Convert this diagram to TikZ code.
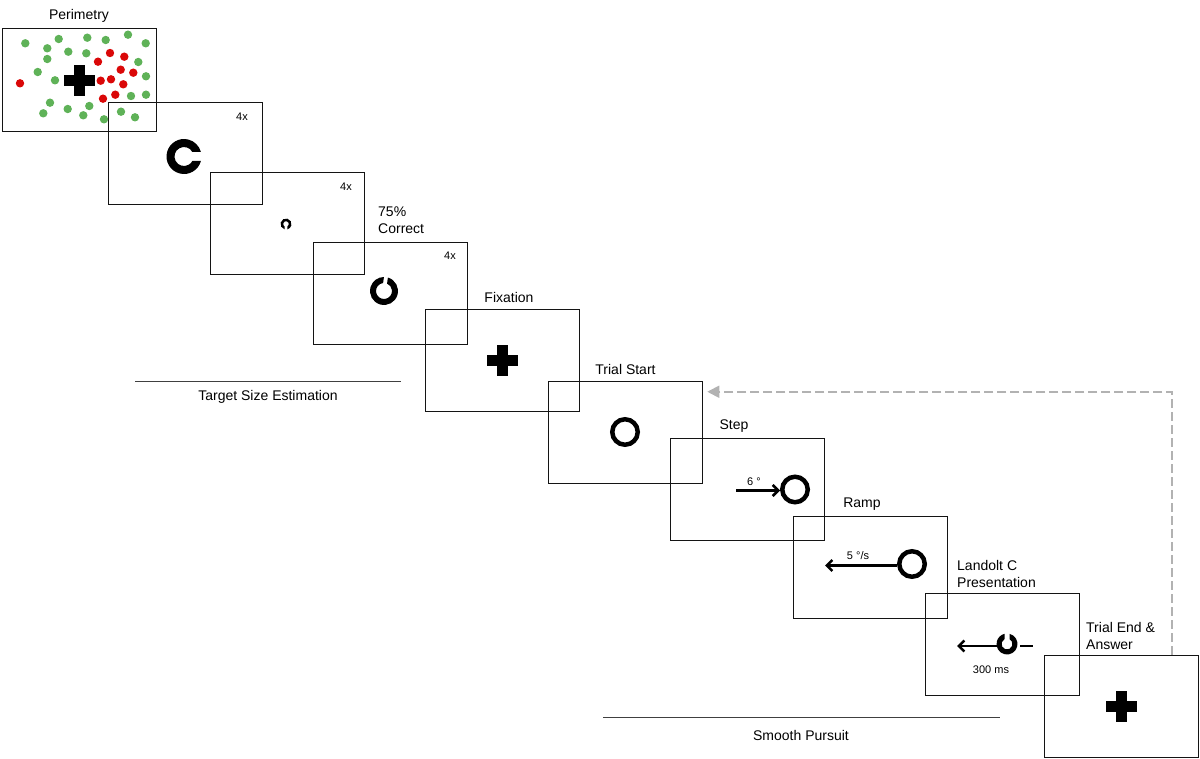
\documentclass[tikz,border=0pt]{standalone}
\usepackage{fontspec}
\setmainfont{Liberation Sans}
\usetikzlibrary{arrows.meta,calc}
\definecolor{dotgreen}{RGB}{95,178,88}
\definecolor{dotred}{RGB}{218,8,8}
\definecolor{dashgray}{RGB}{178,178,178}
\definecolor{framecol}{RGB}{20,20,20}
% Landolt C: centre x, centre y, outer R, inner r, half gap h, gap angle g
\newcommand\drawLandoltC[6]{%
  \fill[black,shift={(#1,#2)}]
    ({#6+asin(#5/#3)}:#3) arc[start angle={#6+asin(#5/#3)},end angle={#6+360-asin(#5/#3)},radius=#3]
    -- ({#6+360-asin(#5/#4)}:#4) arc[start angle={#6+360-asin(#5/#4)},end angle={#6+asin(#5/#4)},radius=#4]
    -- cycle;}
\begin{document}
\begin{tikzpicture}[x=1pt,y=-1pt,
  frame/.style={draw=framecol,line width=1.5pt,minimum width=154pt,minimum height=102pt,inner sep=0pt},
  lbl/.style={font=\fontsize{14}{17}\selectfont,inner sep=0pt},
  smalllbl/.style={font=\fontsize{11}{13}\selectfont,inner sep=0pt},
  gdot/.style={fill=dotgreen},
  rdot/.style={fill=dotred},
  ringnode/.style={circle,draw=black,line width=4.5pt,minimum size=25.5pt,inner sep=0pt},
  motion/.style={line width=2.5pt,-{Straight Barb[length=5.5pt,width=11pt]}},
  sepline/.style={draw=black!75,line width=1.5pt},
  fcross/.pic={\fill (-15.5,-5.5) rectangle (15.5,5.5); \fill (-5.5,-15.5) rectangle (5.5,15.5);}
]
\useasboundingbox (0,0) rectangle (1200,759);

% ---------- Perimetry contents ----------
\foreach \p in {(25.3,43.3),(58.7,39),(87.3,37.7),(105.7,40),(128,34.7),(145.7,43.3),(47.3,48.3),(68.3,51.7),(86.3,53.3),(47.3,59),(138.3,62),(37.7,72),(55,80.3),(146,76.3),(146,94.7),(131,96),(50,102.7),(43.3,113.3),(67.7,109),(89.3,106),(83.3,115.3),(104,119.3),(121,111.7),(135,117.3)}
  \fill[gdot] \p circle[radius=4.2];
\foreach \p in {(20,83.3),(110,53),(124.3,56.7),(98,61.7),(120.7,69.7),(133.3,72.7),(100.7,80.7),(111,79.3),(123.3,84.3),(115.3,94.7),(103,98.7)}
  \fill[rdot] \p circle[radius=4.2];
\pic at (79,81) {fcross};

% ---------- frames ----------
\node[frame,minimum height=103pt] (b1) at (79.5,80) {};
\node[frame] (b2) at (185.5,153.5) {};
\node[frame] (b3) at (287.5,223.5) {};
\node[frame] (b4) at (390.5,293.5) {};
\node[frame] (b5) at (502.5,360.5) {};
\node[frame] (b6) at (625.5,432.5) {};
\node[frame] (b7) at (747.5,489.5) {};
\node[frame] (b8) at (870.5,567.5) {};
\node[frame] (b9) at (1002.5,644.5) {};
\node[frame] (b10) at (1121.5,706.5) {};

% ---------- labels ----------
\node[lbl] (tPer) at (79,16) {Perimetry};
\node[smalllbl] (t4a) at (242,117) {4x};
\node[smalllbl] (t4b) at (346,187) {4x};
\node[smalllbl] (t4c) at (450,256) {4x};
\node[lbl,align=left,anchor=west] (t75) at (378,220) {75\%\\Correct};
\node[lbl] (tFix) at (509,297.5) {Fixation};
\node[lbl] (tTS) at (625.5,369) {Trial Start};
\node[lbl] (tStep) at (734,426) {Step};
\node[lbl] (tRamp) at (862,504.5) {Ramp};
\node[lbl,align=left,anchor=west] (tLC) at (957,574) {Landolt C\\Presentation};
\node[lbl,align=left,anchor=west] (tTE) at (1086,636) {Trial End \&\\Answer};

% ---------- stimuli ----------
\drawLandoltC{184}{156.5}{17.5}{9.5}{4.5}{0}
\drawLandoltC{286}{224}{5.5}{2.8}{1.4}{90}
\drawLandoltC{384}{291}{14}{8}{2}{278}
\pic at (502,361) {fcross};
\node[ringnode] (r6) at (625,432) {};
% step
\node[ringnode] (r7) at (795,489.5) {};
\coordinate (s7) at (736,490.5);
\draw[motion] (s7) -- (r7.west |- s7);
\node[smalllbl] (t6deg) at (754,482) {6 °};
% ramp
\node[ringnode] (r8) at (912,564) {};
\coordinate (s8) at (825,565.5);
\draw[motion] (r8.west |- s8) -- (s8);
\node[smalllbl] (t5deg) at (858,556) {5 °/s};
% Landolt C presentation
\drawLandoltC{1007}{644}{10.5}{5.5}{2.5}{270}
\coordinate (c9L) at (997,646);
\coordinate (a9) at (957,646);
\draw[motion] (c9L) -- (a9);
\coordinate (d9a) at (1020,646);
\coordinate (d9b) at (1033,646);
\draw[line width=2.5pt] (d9a) -- (d9b);
\node[smalllbl] (t300) at (991,670) {300 ms};
\pic at (1121,706) {fcross};

% ---------- feedback dashed arrow ----------
\coordinate (fbStart) at ($(b10.north east)+(-27,0)$);
\coordinate (fbEnd) at ($(b6.north east)+(4,11)$);
\draw[dashgray,line width=1.8pt,dash pattern=on 9pt off 4pt,-{Triangle[length=12pt,width=12pt]}] (fbStart) |- (fbEnd);

% ---------- phase lines ----------
\coordinate (tseL) at (135,381.5);
\coordinate (tseR) at (401,381.5);
\draw[sepline] (tseL) -- (tseR);
\node[lbl] (tTSE) at (268,397) {Target Size Estimation};
\coordinate (spL) at (603,717.5);
\coordinate (spR) at (1000,717.5);
\draw[sepline] (spL) -- (spR);
\node[lbl] (tSP) at (801,735) {Smooth Pursuit};
\end{tikzpicture}
\end{document}
